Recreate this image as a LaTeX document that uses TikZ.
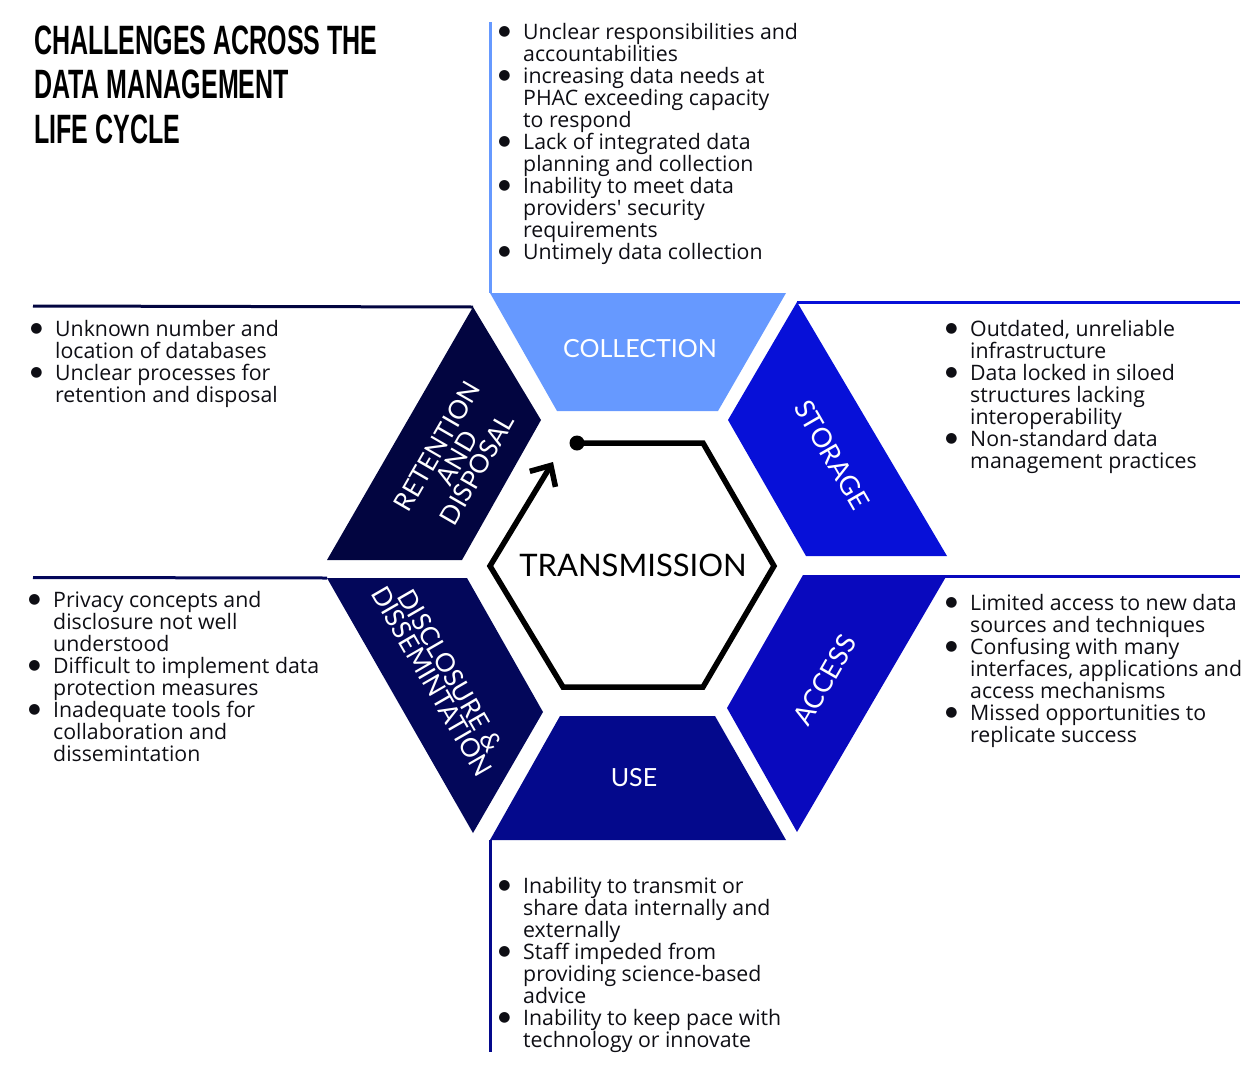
\documentclass[tikz,border=0pt]{standalone}
\usepackage{fontspec}
\setmainfont{Lato}
\newfontfamily\listfont{Open Sans}
\newfontfamily\symfont{DejaVu Sans}
\newfontfamily\titlefont[FakeStretch=0.61]{Liberation Sans}
\usetikzlibrary{arrows.meta}

\definecolor{colC}{HTML}{6699FF}
\definecolor{colS}{HTML}{0710D8}
\definecolor{colA}{HTML}{0909BE}
\definecolor{colU}{HTML}{04098C}
\definecolor{colD}{HTML}{03075A}
\definecolor{colR}{HTML}{020540}
\definecolor{txt}{HTML}{0E0E14}

% hanging bullet for list lines
\newcommand\itm{\makebox[0pt][r]{\raisebox{3.5pt}{\symfont\fontsize{14}{14}\selectfont ●}\hspace{12.5pt}}}

% list blocks are anchored on the baseline of their last line
\tikzset{
  blk/.style={anchor=base west, align=left, inner sep=0pt, text=txt,
              font=\listfont\fontsize{21.3}{22}\selectfont},
  lbl/.style={text=white, inner sep=0pt, font=\fontsize{25}{25}\selectfont},
  rule/.style={line width=3pt},
}

\begin{document}
\begin{tikzpicture}[x=1pt,y=-1pt]
\useasboundingbox (0,0) rectangle (1259,1074);

% title
\node[anchor=base west, align=left, inner sep=0pt,
      font=\titlefont\bfseries\fontsize{41}{44.5}\selectfont] (title) at (34,143)
  {CHALLENGES ACROSS THE\\DATA MANAGEMENT\\LIFE CYCLE};

% ring segments
\fill[colC] (490,293) coordinate (c1) -- (786,293) -- (718,411) -- (557,411) -- cycle;
\fill[colS] (797,302) coordinate (s1) -- (947,556) -- (806,556) -- (728,420) -- cycle;
\fill[colA] (803,575) -- (947,575) coordinate (a1) -- (797,832) -- (727,708) -- cycle;
\fill[colU] (560,716) -- (715,716) -- (786,840) -- (490,840) coordinate (u1) -- cycle;
\fill[colD] (327,578) coordinate (d1) -- (467,578) -- (543,712) -- (473,833) -- cycle;
\fill[colR] (473,307) coordinate (r1) -- (541,420) -- (462,560) -- (327,560) -- cycle;

% guide rules towards the lists
\coordinate (cTop) at (490,22);
\coordinate (sEnd) at (1240,302);
\coordinate (aEnd) at (1240,576);
\coordinate (uEnd) at (490,1052);
\coordinate (dEnd) at (33,577.5);
\coordinate (rEnd) at (33,306);
\draw[rule, colC] (cTop) -- (c1);
\draw[rule, colS] (s1) -- (sEnd);
\draw[rule, colA] ([xshift=-1pt]a1) |- (aEnd);
\draw[rule, colU] (u1) -- (uEnd);
\draw[rule, colD] (dEnd) -- (d1);
\draw[rule, colR] (rEnd) -- (r1);

% segment labels
\node[lbl] (lc) at (640,349) {COLLECTION};
\node[lbl, rotate=-60, font=\fontsize{27}{27}\selectfont] (ls) at (832,455) {STORAGE};
\node[lbl, rotate=60, font=\fontsize{27}{27}\selectfont] (la) at (825,680) {ACCESS};
\node[lbl] (lu) at (634,778) {USE};
\node[lbl, rotate=60, align=center, font=\fontsize{26}{23}\selectfont] (lr) at (457,458)
  {RETENTION\\AND\\DISPOSAL};
\node[lbl, rotate=-60, align=center, font=\fontsize{26}{21}\selectfont] (ld) at (441,676)
  {DISCLOSURE \&\\DISSEMINTATION};

% central cycle
\coordinate (h0) at (577,443);
\coordinate (h1) at (703,443);
\coordinate (h2) at (774,566);
\coordinate (h3) at (703,687);
\coordinate (h4) at (563,687);
\coordinate (h5) at (490,566);
\coordinate (h6) at (553,462);
\draw[line width=5.5pt, line join=miter, -{Straight Barb[length=16pt,width=30pt]}]
  (h0) -- (h1) -- (h2) -- (h3) -- (h4) -- (h5) -- (h6);
\fill (h0) circle (7.5pt);
\node[inner sep=0pt, text=black, font=\fontsize{31}{31}\selectfont] (tr) at (633,565) {TRANSMISSION};

% challenge lists
\node[blk] (tc) at (523,259) {%
\itm Unclear responsibilities and\\
accountabilities\\
\itm increasing data needs at\\
PHAC exceeding capacity\\
to respond\\
\itm Lack of integrated data\\
planning and collection\\
\itm Inability to meet data\\
providers' security\\
requirements\\
\itm Untimely data collection};

\node[blk] (tr1) at (55,402) {%
\itm Unknown number and\\
location of databases\\
\itm Unclear processes for\\
retention and disposal};

\node[blk] (ts) at (970,468) {%
\itm Outdated, unreliable\\
infrastructure\\
\itm Data locked in siloed\\
structures lacking\\
interoperability\\
\itm Non-standard data\\
management practices};

\node[blk] (td) at (53,761) {%
\itm Privacy concepts and\\
disclosure not well\\
understood\\
\itm Difficult to implement data\\
protection measures\\
\itm Inadequate tools for\\
collaboration and\\
dissemintation};

\node[blk] (ta) at (970,742) {%
\itm Limited access to new data\\
sources and techniques\\
\itm Confusing with many\\
interfaces, applications and\\
access mechanisms\\
\itm Missed opportunities to\\
replicate success};

\node[blk] (tu) at (523,1047) {%
\itm Inability to transmit or\\
share data internally and\\
externally\\
\itm Staff impeded from\\
providing science-based\\
advice\\
\itm Inability to keep pace with\\
technology or innovate};
\end{tikzpicture}
\end{document}
